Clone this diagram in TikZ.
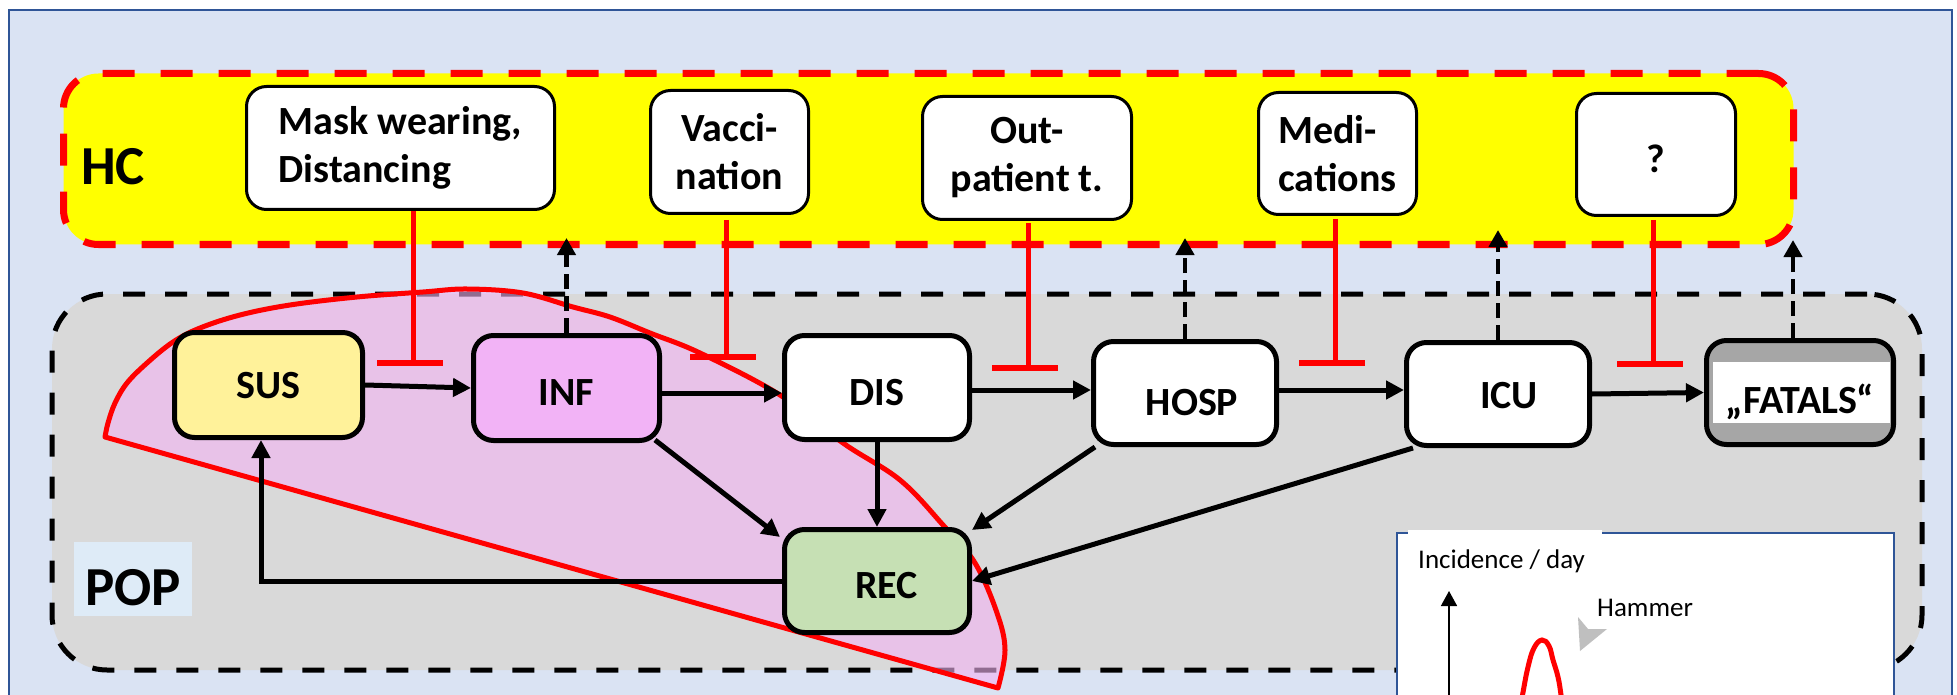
\documentclass[tikz,border=0pt]{standalone}
\usepackage{fontspec}
\setmainfont{Carlito}
\usetikzlibrary{arrows.meta}

\definecolor{pagebg}{HTML}{DAE3F3}
\definecolor{frameblue}{HTML}{2F5597}
\definecolor{hcyellow}{HTML}{FFFF00}
\definecolor{popgray}{HTML}{D9D9D9}
\definecolor{popbox}{HTML}{DEEBF7}
\definecolor{susfill}{HTML}{FFF29A}
\definecolor{inffill}{HTML}{F2B3F6}
\definecolor{recfill}{HTML}{C6E0B4}
\definecolor{fatalgray}{HTML}{A6A6A6}
\definecolor{lensfill}{HTML}{F2B4F2}
\definecolor{pointer}{HTML}{BFBFBF}

\begin{document}
\begin{tikzpicture}[x=1pt,y=-1pt,
  measure/.style={draw=black, line width=3pt, fill=white, rounded corners=20pt,
    inner sep=0pt, outer sep=1.5pt, minimum height=123pt,
    font=\bfseries\fontsize{40}{48}\selectfont},
  compart/.style={draw=black, line width=5pt, rounded corners=20pt,
    inner sep=0pt, outer sep=2.5pt, minimum width=186pt, minimum height=104pt,
    text depth=0pt, font=\bfseries\fontsize{40}{48}\selectfont},
  flow/.style={draw=black, line width=5pt, -{Triangle[length=18pt,width=18pt]}},
  feedback/.style={draw=black, line width=4.5pt, dash pattern=on 15pt off 7pt,
    -{Triangle[length=17pt,width=18pt]}},
  inhib/.style={draw=red, line width=5pt},
  blocker/.style={draw=red, line width=6pt},
  chartfont/.style={anchor=base west, inner sep=0pt, font=\fontsize{27}{32}\selectfont},
]
\useasboundingbox (0,0) rectangle (1957,695);
\begin{scope}
\clip (0,0) rectangle (1957,695);

% page background
\fill[white] (0,0) rectangle (1957,695);
\draw[frameblue, line width=2pt, fill=pagebg] (9,10) rectangle (1952,760);

% health-care layer
\node[draw=red, line width=7pt, dash pattern=on 32pt off 26pt, fill=hcyellow,
  rounded corners=35pt, minimum width=1730pt, minimum height=171pt,
  inner sep=0pt, outer sep=3.5pt] (HC) at (928.5,159) {};
\node[anchor=base west, inner sep=0pt, font=\bfseries\fontsize{55}{60}\selectfont]
  (hclabel) at (81,185) {HC};

% population layer
\node[draw=black, line width=5pt, dash pattern=on 22pt off 20pt, fill=popgray,
  rounded corners=55pt, minimum width=1870pt, minimum height=376pt,
  inner sep=0pt] (POP) at (987,482) {};
\node[fill=popbox, minimum width=118pt, minimum height=74pt, inner sep=0pt,
  text height=52pt, text depth=0pt, font=\bfseries\fontsize{55}{60}\selectfont]
  (poplabel) at (133,579) {POP};

% highlighted region
\filldraw[fill=lensfill, fill opacity=0.6, draw=red, line width=5pt, line join=round]
  plot[smooth, tension=0.6] coordinates {(105,437) (108,423) (115,403) (127,383)
  (147,363) (173,342) (200,328) (240,315) (290,305) (357,297) (423,292) (467,289)
  (523,293) (573,307) (610,317) (650,333) (700,353) (780,395) (843,443) (900,480)
  (943,525) (975,563) (997,613) (1005,650) (998,688)} -- cycle;

% incidence chart
\node[draw=frameblue, fill=white, line width=2pt, minimum width=497pt,
  minimum height=240pt, anchor=north west, inner sep=0pt] (chart) at (1396,532) {};
\fill[white] (1408,530) rectangle (1602,535);
\node[chartfont] (inc) at (1418,568) {Incidence / day};
\node[chartfont] (ham) at (1597,616) {Hammer};
\coordinate (axisfoot) at (1449,720);
\coordinate (axistip) at (1449,591);
\draw[line width=1.5pt, -{Triangle[length=15pt,width=16pt]}] (axisfoot) -- (axistip);
\fill[pointer] (1578,617) -- (1588,629) -- (1607,629) -- (1580,651) -- cycle;
\draw[red, line width=5pt, line cap=round]
  plot[smooth, tension=0.7] coordinates {(1518,720) (1522.5,695) (1528,667)
  (1534,648) (1542,640) (1549,646) (1553,660) (1558,677) (1561,695) (1564,720)};

% measures
\node[measure, minimum width=308pt, align=left] (Mask) at (400.5,148)
  {Mask wearing,\\Distancing};
\node[measure, minimum width=158pt, align=center] (Vacc) at (729.5,152)
  {Vacci-\\nation};
\node[measure, minimum width=209pt, align=center] (Out) at (1027,158)
  {Out-\\patient t.};
\node[measure, minimum width=158pt, minimum height=122pt, align=left] (Med)
  at (1337.5,153.5) {Medi-\\cations};
\node[measure, minimum width=159pt, minimum height=122pt, text height=37pt,
  text depth=0pt] (Qbox) at (1656,154.5) {?};

% compartments
\node[compart, fill=susfill, minimum width=188pt, minimum height=105pt,
  text height=26pt] (SUS) at (268.5,385) {SUS};
\node[compart, fill=inffill, minimum height=105pt, text height=34pt]
  (INF) at (566.5,388) {INF};
\node[compart, fill=white, minimum width=185pt, text height=35pt]
  (DIS) at (877,387.5) {DIS};
\node[compart, fill=white, minimum width=183pt, minimum height=103pt,
  text height=44pt] (HOSP) at (1185,393) {\hspace*{14pt}HOSP};
\node[compart, fill=white, minimum width=183pt, minimum height=103pt,
  text height=28pt] (ICU) at (1498,394) {\hspace*{22pt}ICU};
\node[compart, fill=recfill, minimum width=185pt, minimum height=103pt,
  text height=34pt] (REC) at (877,581) {\hspace*{19pt}REC};
\node[compart, fill=fatalgray, minimum width=187pt] (FATALS) at (1800,392.5) {};
\node[fill=white, minimum width=177pt, minimum height=61pt, inner sep=0pt]
  (band) at (1801.5,392.5) {};
\node[inner sep=0pt, text height=41pt, text depth=0pt,
  font=\bfseries\fontsize{40}{48}\selectfont] (fatlabel) at (FATALS.center) {„FATALS“};

% transitions
\draw[flow] (SUS.east) -- (INF.west);
\coordinate (a2) at ([yshift=-5pt]INF.east);
\draw[flow] (a2) -- (a2 -| DIS.west);
\coordinate (a3) at ([yshift=-2.5pt]DIS.east);
\draw[flow] (a3) -- (a3 -| HOSP.west);
\coordinate (a4) at ([yshift=3pt]HOSP.east);
\draw[flow] (a4) -- (a4 -| ICU.west);
\draw[flow] (ICU.east) -- (FATALS.west);
\draw[flow] ([xshift=-7pt,yshift=3pt]INF.south east) -- ([xshift=-2pt,yshift=-10pt]REC.north west);
\draw[flow] (DIS.south) -- (REC.north);
\draw[flow] ([xshift=4pt]HOSP.south west) -- ([yshift=-3pt]REC.north east);
\draw[flow] ([xshift=9pt]ICU.south west) -- (REC.east);
\coordinate (s1) at ([xshift=-7.5pt]SUS.south);
\draw[flow, line join=miter] (REC.west) -- (REC.west -| s1) -- (s1);

% reporting to the health-care layer
\coordinate (hcA) at ([yshift=10pt]HC.south);
\coordinate (hcB) at ([yshift=18pt]HC.south);
\coordinate (hcC) at ([yshift=8pt]HC.south);
\coordinate (fatup) at ([xshift=-7pt]FATALS.north);
\draw[feedback] (INF.north) -- (INF.north |- hcA);
\draw[feedback] (HOSP.north) -- (HOSP.north |- hcA);
\draw[feedback] (ICU.north) -- (ICU.north |- hcB);
\draw[feedback] (fatup) -- (fatup |- hcC);

% inhibitions
\draw[inhib] ([xshift=12.5pt]Mask.south) -- ++(0pt,-152pt) coordinate (tMask);
\draw[blocker] ([xshift=-36pt]tMask) -- ([xshift=30pt]tMask);
\draw[inhib] ([xshift=-3.5pt,yshift=-5pt]Vacc.south) -- ++(0pt,-137pt) coordinate (tVacc);
\draw[blocker] ([xshift=-36pt]tVacc) -- ([xshift=30pt]tVacc);
\draw[inhib] ([xshift=1pt,yshift=-2pt]Out.south) -- ++(0pt,-145pt) coordinate (tOut);
\draw[blocker] ([xshift=-36pt]tOut) -- ([xshift=30pt]tOut);
\draw[inhib] ([xshift=-2.5pt,yshift=-3pt]Med.south) -- ++(0pt,-144pt) coordinate (tMed);
\draw[blocker] ([xshift=-36pt]tMed) -- ([xshift=30pt]tMed);
\draw[inhib] ([xshift=-3pt,yshift=-3pt]Qbox.south) -- ++(0pt,-144pt) coordinate (tQ);
\draw[blocker] ([xshift=-36pt]tQ) -- ([xshift=30pt]tQ);
\end{scope}
\end{tikzpicture}
\end{document}
